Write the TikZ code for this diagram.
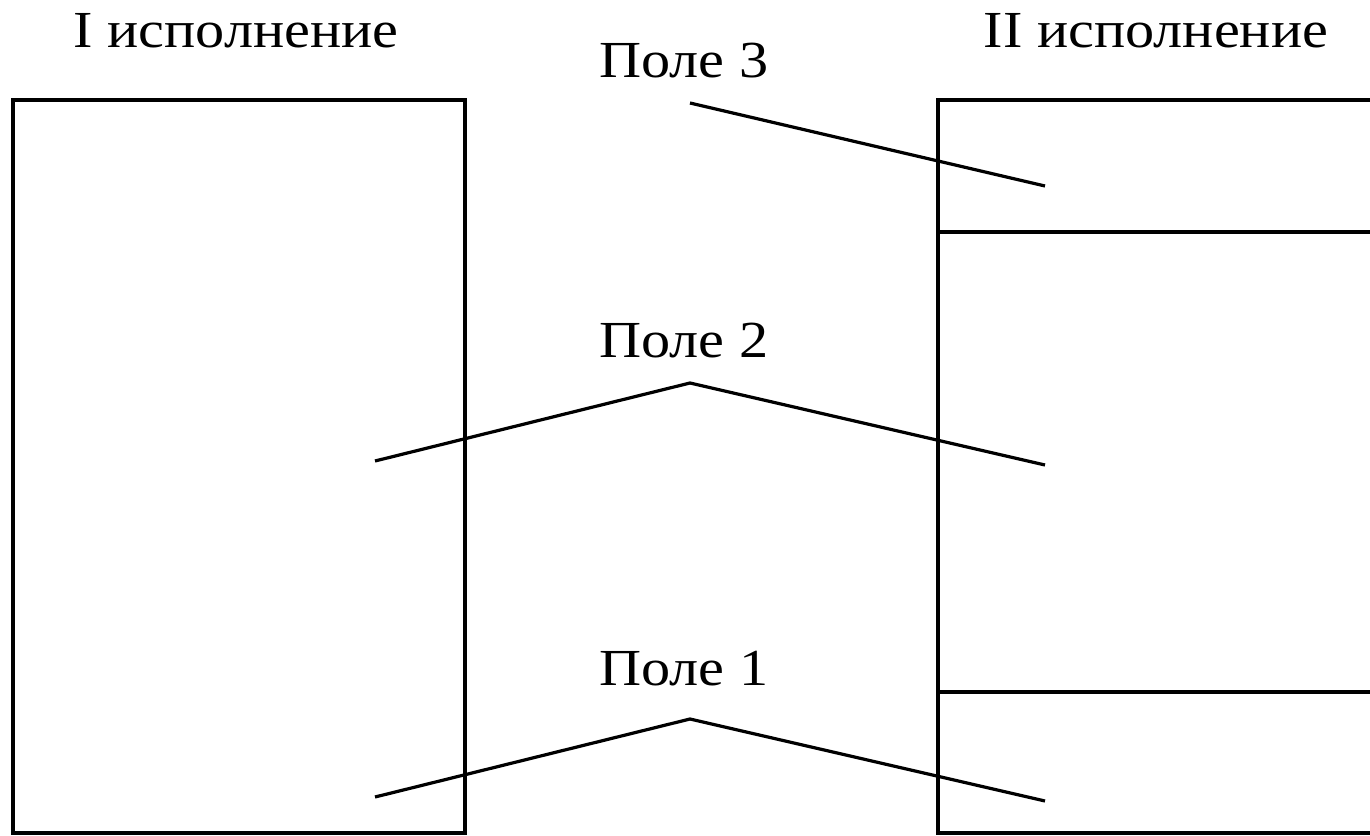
\documentclass[tikz,border=0pt]{standalone}
\usepackage{fontspec}
\setmainfont{Liberation Serif}[FakeStretch=1.12]
\begin{document}
\begin{tikzpicture}[x=1pt,y=-1pt,
  frame/.style={draw=black,line width=3.4pt},
  lead/.style={draw=black,line width=3.2pt},
  lbl/.style={font=\fontsize{52}{62}\selectfont,anchor=base,inner sep=0pt}]
\useasboundingbox (0,0) rectangle (1370,835);
% boxes
\draw[frame] (13,833) -- (13,100) -- (465,100) -- (465,833) -- cycle;
\draw[frame] (1375,100) -- (938,100) -- (938,833) -- (1375,833);
\draw[frame] (938,232) -- (1375,232);
\draw[frame] (938,692) -- (1375,692);
% labels
\node[lbl] (t1) at (236,47) {I исполнение};
\node[lbl] (t2) at (1156,47) {II исполнение};
\node[lbl] (p3) at (684,77) {Поле 3};
\node[lbl] (p2) at (684,357) {Поле 2};
\node[lbl] (p1) at (684,685) {Поле 1};
% lead lines
\coordinate (a3) at (690,103);
\coordinate (b3) at (1045,186);
\coordinate (l2) at (375,461);
\coordinate (m2) at (690,383);
\coordinate (r2) at (1045,465);
\coordinate (l1) at (375,797);
\coordinate (m1) at (690,719);
\coordinate (r1) at (1045,801);
\draw[lead] (a3) -- (b3);
\draw[lead] (l2) -- (m2) -- (r2);
\draw[lead] (l1) -- (m1) -- (r1);
\end{tikzpicture}
\end{document}
